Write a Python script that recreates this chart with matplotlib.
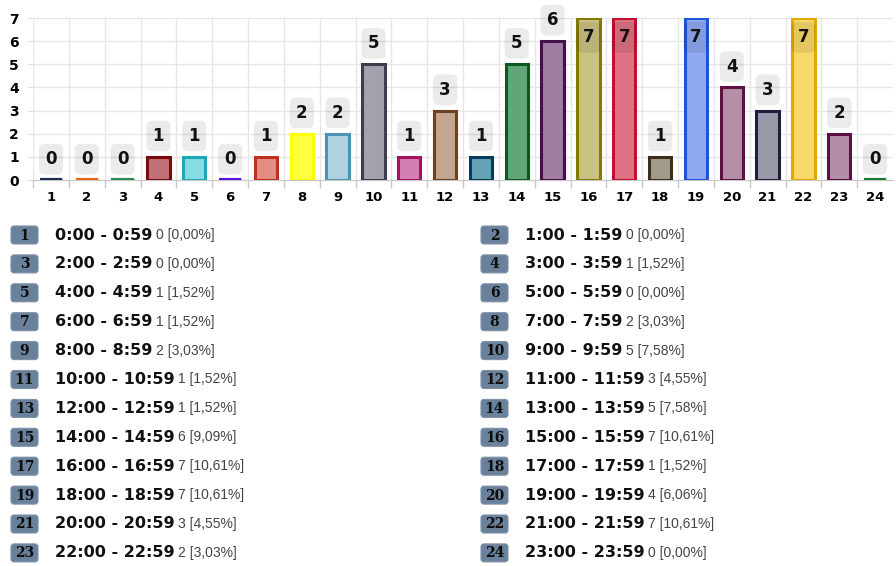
import matplotlib
matplotlib.use("Agg")
import matplotlib.pyplot as plt
from matplotlib.patches import FancyBboxPatch

# Data
hours = list(range(1, 25))
counts = [0, 0, 0, 1, 1, 0, 1, 2, 2, 5, 1, 3, 1, 5, 6, 7, 7, 1, 7, 4, 3, 7, 2, 0]
edge_colors = ['#1c2b4a', '#e8641a', '#2e8b57', '#7b0a0a', '#1fa8b8', '#5a10e0',
               '#c0301e', '#ffff00', '#4d94b3', '#3d3d4d', '#a3125f', '#6e4020',
               '#053a5a', '#0a5a20', '#46104f', '#857a00', '#c2102e', '#3d2e18',
               '#2054d6', '#5e1040', '#1e1e40', '#e6a800', '#5a1040', '#1a7a30']
fill_colors = ['#1c2b4a', '#e8641a', '#2e8b57', '#c07278', '#86dde2', '#5a10e0',
               '#e28e80', '#ffff40', '#afd3df', '#a2a2ac', '#d47fb2', '#c4a690',
               '#63a3b4', '#62a576', '#a07ea3', '#cac283', '#e07285', '#a29a8b',
               '#8fa8f0', '#b58fa7', '#9999aa', '#f8d968', '#b48ea6', '#1a7a30']
ranges = ["%d:00 - %d:59" % (h - 1, h - 1) for h in hours]
total = sum(counts)
shares = [("%.2f%%" % (100.0 * c / total)).replace('.', ',') for c in counts]

W, H = 896, 566
fig = plt.figure(figsize=(W / 100, H / 100), dpi=100)

# ---- bar chart ----
ax = fig.add_axes([33 / W, 1 - 180 / H, 860 / W, 162 / H])
ax.bar(hours, counts, width=0.62, color=fill_colors, edgecolor=edge_colors,
       linewidth=2.2, zorder=3)
# empty hours still show as a flat coloured stroke
zero_h = [h for h, c in zip(hours, counts) if c == 0]
zero_c = [e for e, c in zip(edge_colors, counts) if c == 0]
ax.hlines([0] * len(zero_h), [h - 0.31 for h in zero_h], [h + 0.31 for h in zero_h],
          colors=zero_c, lw=3, zorder=4)
ax.set_xlim(0.5, 24.5)
ax.set_ylim(0, 7)

ax.set_xticks(hours)
ax.set_xticklabels([str(h) for h in hours], fontweight='bold', fontsize=9.5)
ax.set_xticks([h + 0.5 for h in range(0, 24)], minor=True)
ax.tick_params(axis='x', which='major', length=0, pad=8)
ax.tick_params(axis='x', which='minor', length=6, color='#c8c8c8', width=1)
ax.set_yticks(range(0, 8))
ax.set_yticklabels([str(v) for v in range(0, 8)], fontweight='bold', fontsize=10)
ax.tick_params(axis='y', length=4, color='#e0e0e0', pad=6)

ax.grid(True, which='minor', axis='x', color='#e6e6e6', lw=1, zorder=0)
ax.grid(True, which='major', axis='y', color='#e6e6e6', lw=1, zorder=0)
for s in ['top', 'right', 'left']:
    ax.spines[s].set_visible(False)
ax.spines['bottom'].set_color('#c8c8c8')

for h, c in zip(hours, counts):
    dy = 15
    if c + 0.9 > 7:
        dy = -14
    ax.annotate(str(c), xy=(h, c), xytext=(0, dy), textcoords='offset points',
                ha='center', va='center', fontsize=12, fontweight='heavy',
                color='#111111', zorder=5, annotation_clip=False,
                bbox=dict(boxstyle='round,pad=0.38,rounding_size=0.35',
                          fc=(0, 0, 0, 0.08), ec='none'))

# ---- list below ----
lx = fig.add_axes([0, 0, 1, 1])
lx.set_xlim(0, W)
lx.set_ylim(H, 0)
lx.axis('off')

for i, h in enumerate(hours):
    row = i // 2
    col = i % 2
    y = 235 + row * 28.9
    x0 = 11 if col == 0 else 481
    lx.add_patch(FancyBboxPatch((x0, y - 9), 27, 18,
                                boxstyle='round,pad=0,rounding_size=3',
                                fc='#6a819b', ec='#7d90a8', lw=0.8))
    lx.text(x0 + 13.5, y + 0.5, str(h), ha='center', va='center', fontsize=10,
            fontweight='bold', color='#0c0c0c', family='DejaVu Serif')
    t = lx.text(x0 + 44, y, ranges[i], ha='left', va='center', fontsize=11.5,
                fontweight='bold', color='#111111')
    lx.annotate("%d [%s]" % (counts[i], shares[i]), xy=(1, 0.5), xycoords=t,
                xytext=(2.5, 0), textcoords='offset points', ha='left', va='center',
                fontsize=10, color='#444444', family='Liberation Sans')

fig.savefig('out.png', dpi=100, facecolor='white')
